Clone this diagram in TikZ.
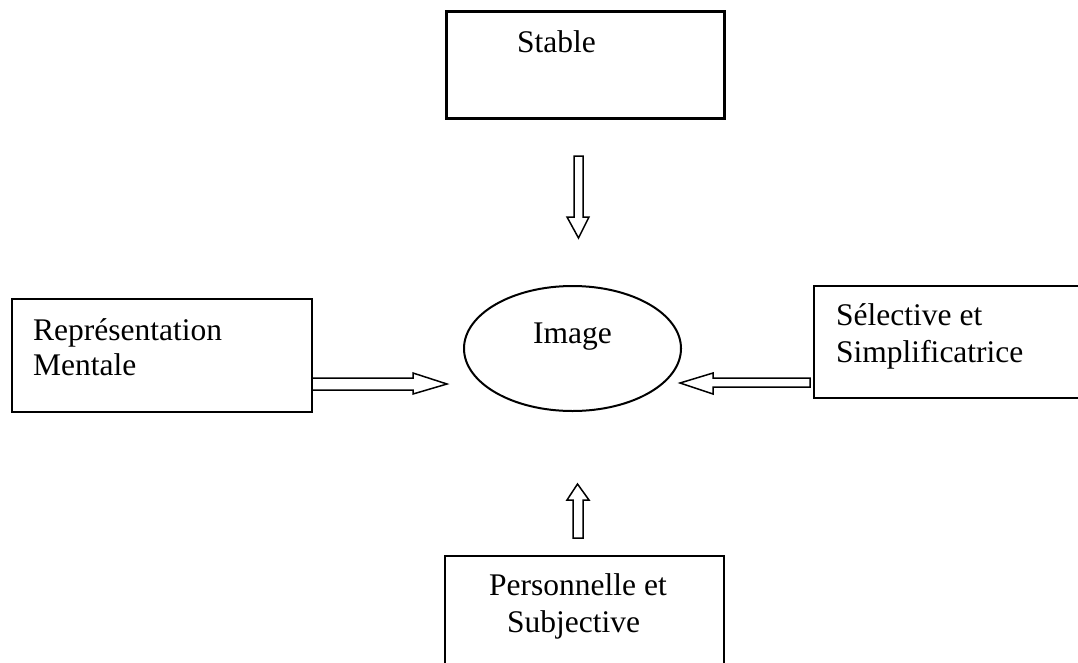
\documentclass[tikz,border=0pt]{standalone}
\usepackage{fontspec}
\setmainfont{Liberation Serif}
\usetikzlibrary{shapes.geometric}
\begin{document}
\begin{tikzpicture}[x=1pt,y=-1pt,
  box/.style={draw=black, line width=2pt, fill=none, inner sep=0pt},
  lbl/.style={anchor=base west, inner sep=0pt, font=\fontsize{31.5}{36}\selectfont},
  blockarrow/.style={draw=black, line width=1.5pt, fill=white, line join=miter}]
\path[use as bounding box] (0,0) rectangle (1078,662);
\clip (0,0) rectangle (1078,662);
\fill[white] (0,0) rectangle (1078,662);
% boxes
\node[box, line width=3pt, minimum width=278pt, minimum height=107pt] (stable) at (585,64.5) {};
\node[box, minimum width=300pt, minimum height=113pt] (repr) at (162,355.5) {};
\node[box, minimum width=300pt, minimum height=112pt] (sel) at (964,342) {};
\node[box, minimum width=279pt, minimum height=140pt] (pers) at (584.5,626) {};
\node[draw=black, line width=2pt, ellipse, minimum width=217pt, minimum height=125pt, inner sep=0pt] (img) at (572.5,348.5) {};
% labels
\node[lbl] (tstable) at (517,52) {Stable};
\node[lbl] (trep1) at (33,340) {Représentation};
\node[lbl] (trep2) at (33,375) {Mentale};
\node[lbl] (tsel1) at (836,325) {Sélective et};
\node[lbl] (tsel2) at (836,362) {Simplificatrice};
\node[lbl] (tper1) at (489,595) {Personnelle et};
\node[lbl] (tper2) at (507,632) {Subjective};
\node[lbl] (timg) at (533,343) {Image};
% hollow block arrows
\draw[blockarrow] (574,156) -- (583,156) -- (583,217) -- (589,217) -- (578.5,238) -- (567,217) -- (574,217) -- cycle;
\draw[blockarrow] (573,538) -- (583,538) -- (583,500) -- (589,500) -- (577.5,484) -- (567,500) -- (573,500) -- cycle;
\draw[blockarrow] (312,378) -- (413,378) -- (413,373) -- (447,384) -- (413,394) -- (413,390) -- (312,390) -- cycle;
\draw[blockarrow] (810,378) -- (713,378) -- (713,373) -- (680,383) -- (713,394) -- (713,387) -- (810,387) -- cycle;
\end{tikzpicture}
\end{document}
